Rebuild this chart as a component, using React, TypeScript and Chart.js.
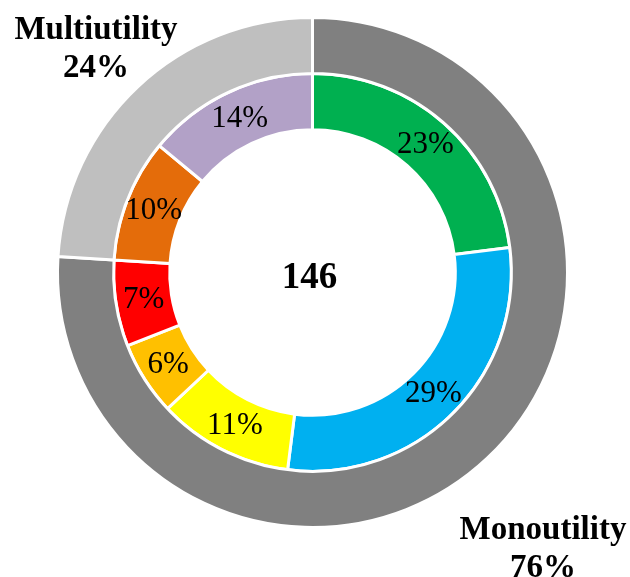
import React, { useEffect, useRef } from "react";
import Chart from "chart.js/auto";

const typeLabels = ["Monoutility", "Multiutility"];
const typeValues = [76, 24];
const typeColors = ["#808080", "#BFBFBF"];

const segmentLabels = ["S1", "S2", "S3", "S4", "S5", "S6", "S7"];
const segmentValues = [23, 29, 11, 6, 7, 10, 14];
const segmentColors = ["#00B050", "#00B0F0", "#FFFF00", "#FFC000", "#FF0000", "#E46C0A", "#B2A1C7"];

const centerLabel = "146";

const FONT = "'Liberation Serif', 'Times New Roman', serif";

// placement of the outer ring captions (text style only)
const typeLabelPos = [
  { x: 543, y: 539 },
  { x: 96, y: 39 },
];

const labelPlugin = {
  id: "labelPlugin",
  afterDatasetsDraw(chart: any) {
    const ctx = chart.ctx;
    ctx.save();
    ctx.fillStyle = "#000";
    const meta = chart.getDatasetMeta(1);
    ctx.font = `31px ${FONT}`;
    ctx.textAlign = "center";
    ctx.textBaseline = "middle";
    meta.data.forEach((arc: any, i: number) => {
      const p = arc.tooltipPosition();
      ctx.fillText(`${segmentValues[i]}%`, p.x, p.y + 1);
    });
    const outer = chart.getDatasetMeta(0).data[0];
    ctx.font = `bold 37px ${FONT}`;
    ctx.fillText(centerLabel, outer.x - 3, outer.y + 6);
    ctx.textBaseline = "alphabetic";
    typeLabels.forEach((lab, i) => {
      const pos = typeLabelPos[i];
      ctx.font = `bold 33px ${FONT}`;
      ctx.fillText(lab, pos.x, pos.y);
      ctx.fillText(`${typeValues[i]}%`, pos.x, pos.y + 38);
    });
    ctx.restore();
  },
};

export default function App() {
  const ref = useRef<HTMLCanvasElement | null>(null);
  useEffect(() => {
    if (!ref.current) return;
    const chart = new Chart(ref.current, {
      type: "doughnut",
      data: {
        labels: segmentLabels,
        datasets: [
          {
            label: "Type",
            data: typeValues,
            backgroundColor: typeColors,
            borderColor: "#ffffff",
            borderWidth: 3,
          },
          {
            label: "Segments",
            data: segmentValues,
            backgroundColor: segmentColors,
            borderColor: "#ffffff",
            borderWidth: 3,
          },
        ],
      },
      options: {
        responsive: false,
        animation: false,
        cutout: "56%",
        layout: { padding: { left: 56, right: 61, top: 16, bottom: 48 } },
        plugins: {
          legend: { display: false },
          tooltip: { enabled: false },
        },
        events: [],
      },
      plugins: [labelPlugin],
    });
    return () => chart.destroy();
  }, []);
  return (
    <div style={{ position: "absolute", left: 0, top: 0, width: 630, height: 577, background: "#fff" }}>
      <canvas ref={ref} width={630} height={577} style={{ width: 630, height: 577, display: "block" }} />
    </div>
  );
}
